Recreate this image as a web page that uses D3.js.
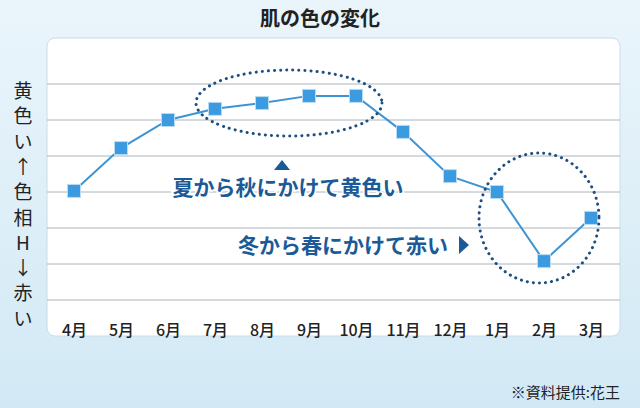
<!DOCTYPE html><html><head><meta charset="utf-8">
<script src="https://cdn.jsdelivr.net/npm/d3@7"></script>
<style>body{margin:0}</style></head><body><script>
const months=["4月","5月","6月","7月","8月","9月","10月","11月","12月","1月","2月","3月"];
const values=[4.03,5.22,6.0,6.31,6.47,6.67,6.67,5.67,4.44,4.0,2.08,3.28];
const gridTicks=[1,2,3,4,5,6,7];
const W=640,H=408;
const F="Noto Sans CJK JP";
const svg=d3.select("body").append("svg").attr("width",W).attr("height",H);
const defs=svg.append("defs");
const g=defs.append("linearGradient").attr("id","bg").attr("x1",0).attr("y1",0).attr("x2",0).attr("y2",1);
g.append("stop").attr("offset",0).attr("stop-color","#eaf5fb");
g.append("stop").attr("offset",1).attr("stop-color","#d2e9f5");
svg.append("rect").attr("width",W).attr("height",H).attr("fill","url(#bg)");
svg.append("rect").attr("x",47).attr("y",38).attr("width",573).attr("height",298).attr("rx",8).attr("fill","#fff").attr("stroke","#c8dde9");
const x=d3.scalePoint().domain(months).range([74,591]);
const y=d3.scaleLinear().domain([0,8]).range([336,48]);
svg.append("g").selectAll("line").data(gridTicks).join("line")
 .attr("x1",47).attr("x2",620).attr("y1",d=>y(d)).attr("y2",d=>y(d)).attr("stroke","#aab4bc").attr("stroke-width",1);
const ax=svg.append("g").attr("transform","translate(0,322)").call(d3.axisBottom(x).tickSize(0));
ax.select(".domain").remove();
ax.selectAll("text").attr("font-size",16).attr("font-weight","500").attr("font-family",F).attr("fill","#222");
svg.append("text").attr("x",320).attr("y",26).attr("text-anchor","middle").attr("font-size",20).attr("font-weight","bold").attr("font-family",F).attr("fill","#222").text("肌の色の変化");
const side=["黄","色","い","↑","色","相","H","↓","赤","い"];
svg.append("g").selectAll("text").data(side).join("text").attr("x",23).attr("y",(d,i)=>98+i*25.3).attr("text-anchor","middle").attr("font-size",19).attr("font-family",F).attr("fill","#222").text(d=>d);
svg.append("path").datum(values).attr("fill","none").attr("stroke","#3d94d4").attr("stroke-width",2)
 .attr("d",d3.line().x((d,i)=>x(months[i])).y(d=>y(d)));
svg.append("g").selectAll("rect").data(values).join("rect")
 .attr("x",(d,i)=>x(months[i])-6.5).attr("y",d=>y(d)-6.5).attr("width",13).attr("height",13)
 .attr("fill","#3b9ae0").attr("stroke","#b9dcf3").attr("stroke-width",1);
const dot={fill:"none",stroke:"#1f4f80","stroke-width":3,"stroke-dasharray":"0.1 6","stroke-linecap":"round"};
function ell(cx,cy,rx,ry){const e=svg.append("ellipse").attr("cx",cx).attr("cy",cy).attr("rx",rx).attr("ry",ry);for(const k in dot)e.attr(k,dot[k]);}
ell(289,103,93,33);ell(539,218,60,65);
const tc="#1b5a96";
svg.append("path").attr("d","M274,170 L282,160 L290,170 Z").attr("fill",tc);
svg.append("text").attr("x",288).attr("y",195).attr("text-anchor","middle").attr("font-size",21).attr("font-weight","bold").attr("font-family",F).attr("fill",tc).attr("stroke","#fff").attr("stroke-width",3).attr("paint-order","stroke").text("夏から秋にかけて黄色い");
svg.append("text").attr("x",343).attr("y",253).attr("text-anchor","middle").attr("font-size",21).attr("font-weight","bold").attr("font-family",F).attr("fill",tc).attr("stroke","#fff").attr("stroke-width",3).attr("paint-order","stroke").text("冬から春にかけて赤い");
svg.append("path").attr("d","M459,236 L469,245 L459,254 Z").attr("fill",tc);
svg.append("text").attr("x",620).attr("y",398).attr("text-anchor","end").attr("font-size",15).attr("font-family",F).attr("fill","#222").text("※資料提供:花王");
</script></body></html>
